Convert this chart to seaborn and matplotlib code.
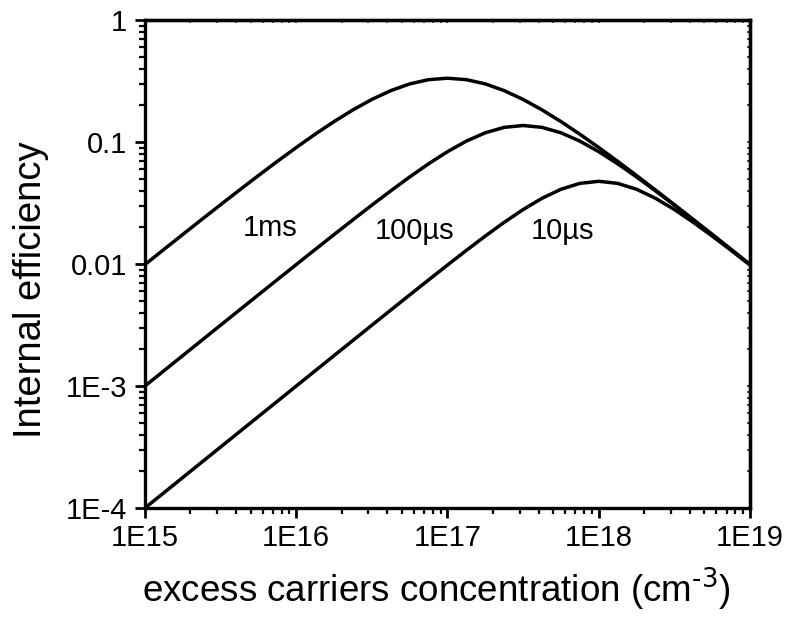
import matplotlib
matplotlib.use("Agg")
import matplotlib.pyplot as plt
import matplotlib.ticker as mticker
import numpy as np
import pandas as pd
import seaborn as sns

# Carrier concentration grid (cm^-3), eight points per decade
log_concentration = [15 + k / 8 for k in range(33)]

eff_1ms = [0.00990, 0.01316, 0.01747, 0.02315, 0.03062, 0.04039, 0.05308, 0.06940,
           0.09009, 0.11585, 0.14703, 0.18335, 0.22329, 0.26364, 0.29935, 0.32432,
           0.33333, 0.32432, 0.29935, 0.26364, 0.22329, 0.18335, 0.14703, 0.11585,
           0.09009, 0.06940, 0.05308, 0.04039, 0.03062, 0.02315, 0.01747, 0.01316,
           0.00990]

eff_100us = [0.000999, 0.0013317, 0.0017751, 0.0023656, 0.0031520, 0.0041985,
             0.0055902, 0.0074390, 0.0098912, 0.013137, 0.017418, 0.023038,
             0.030359, 0.039785, 0.051692, 0.066291, 0.083333, 0.101704, 0.119024,
             0.131781, 0.136527, 0.131781, 0.119024, 0.101704, 0.083333, 0.066291,
             0.051692, 0.039785, 0.030359, 0.023038, 0.017418, 0.013137, 0.0098912]

eff_10us = [0.00010000, 0.00013333, 0.00017780, 0.00023708, 0.00031612, 0.00042151,
            0.00056201, 0.00074929, 0.00099890, 0.0013315, 0.0017746, 0.0023644,
            0.0031492, 0.0041918, 0.0055744, 0.0074018, 0.0098039, 0.012933,
            0.016946, 0.021958, 0.027945, 0.034565, 0.040973, 0.045800, 0.047619,
            0.045800, 0.040973, 0.034565, 0.027945, 0.021958, 0.016946, 0.012933,
            0.0098039]

lifetimes = ["1ms", "100µs", "10µs"]
label_x = [6.7e15, 6.1e16, 5.8e17]
label_y = [0.0197, 0.0185, 0.0185]

x_ticks = [1e15, 1e16, 1e17, 1e18, 1e19]
x_tick_labels = ["1E15", "1E16", "1E17", "1E18", "1E19"]
y_ticks = [1e-4, 1e-3, 1e-2, 1e-1, 1]
y_tick_labels = ["1E-4", "1E-3", "0.01", "0.1", "1"]

concentration = [10 ** v for v in log_concentration]
df = pd.concat([
    pd.DataFrame({"n": concentration, "eff": vals, "tau": name})
    for name, vals in zip(lifetimes, [eff_1ms, eff_100us, eff_10us])
])

sns.set_style("ticks")
plt.rcParams["font.family"] = ["Liberation Sans", "DejaVu Sans"]
plt.rcParams["text.color"] = "black"
plt.rcParams["axes.labelcolor"] = "black"

fig = plt.figure(figsize=(7.87, 6.23), dpi=100)
ax = fig.add_axes([0.1842, 0.1846, 0.953 - 0.1842, 0.9679 - 0.1846])

sns.lineplot(data=df, x="n", y="eff", hue="tau", palette=["black"] * 3,
             linewidth=2.5, legend=False, ax=ax, estimator=None, sort=False)

ax.set_xscale("log")
ax.set_yscale("log")
ax.set_xlim(1e15, 1e19)
ax.set_ylim(1e-4, 1)

ax.xaxis.set_major_locator(mticker.FixedLocator(x_ticks))
ax.xaxis.set_major_formatter(mticker.FixedFormatter(x_tick_labels))
ax.yaxis.set_major_locator(mticker.FixedLocator(y_ticks))
ax.yaxis.set_major_formatter(mticker.FixedFormatter(y_tick_labels))
sub = np.arange(2, 10)
ax.xaxis.set_minor_locator(mticker.LogLocator(base=10, subs=sub, numticks=20))
ax.yaxis.set_minor_locator(mticker.LogLocator(base=10, subs=sub, numticks=20))
ax.xaxis.set_minor_formatter(mticker.NullFormatter())
ax.yaxis.set_minor_formatter(mticker.NullFormatter())

for s in ax.spines.values():
    s.set_linewidth(2.4)
    s.set_color("black")

ax.tick_params(which="major", direction="out", length=7, width=2.0,
               labelsize=21, colors="black", labelcolor="black")
ax.tick_params(which="minor", direction="out", length=4, width=1.6, colors="black")
ax.tick_params(axis="x", which="major", pad=4.5)
ax.tick_params(axis="y", which="major", pad=6)

# small mirror ticks on the top and right frame
top = ax.secondary_xaxis("top")
top.xaxis.set_major_locator(mticker.FixedLocator(x_ticks))
top.xaxis.set_minor_locator(mticker.LogLocator(base=10, subs=sub, numticks=20))
top.tick_params(which="both", direction="in", length=2, width=1.2, labeltop=False)
right = ax.secondary_yaxis("right")
right.yaxis.set_major_locator(mticker.FixedLocator(y_ticks))
right.yaxis.set_minor_locator(mticker.LogLocator(base=10, subs=sub, numticks=20))
right.tick_params(which="both", direction="in", length=2, width=1.2, labelright=False)
for sa in (top, right):
    for s in sa.spines.values():
        s.set_linewidth(2.4)

ax.set_xlabel(r"excess carriers concentration (cm$^{\text{-3}}$)", fontsize=26.5)
ax.xaxis.set_label_coords(0.482, -0.118)
ax.set_ylabel("Internal efficiency", fontsize=27.5)
ax.yaxis.set_label_coords(-0.158, 0.447)

for txt, xv, yv in zip(lifetimes, label_x, label_y):
    ax.text(xv, yv, txt, fontsize=21, ha="center", va="center")

fig.savefig("out.png", dpi=100)
